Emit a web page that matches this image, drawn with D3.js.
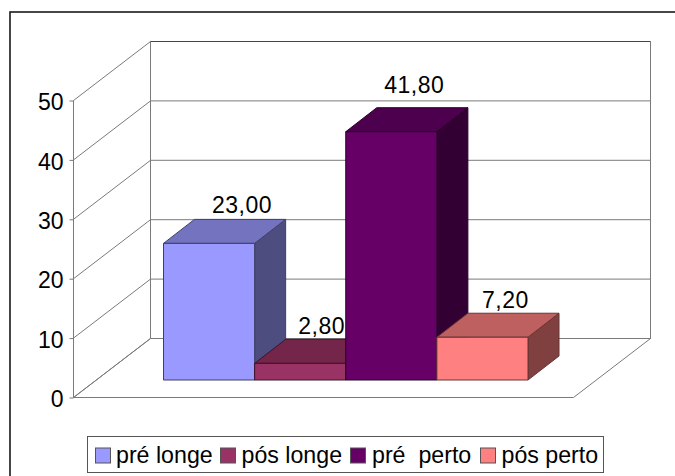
<!DOCTYPE html>
<html>
<head>
<meta charset="utf-8">
<script src="https://cdn.jsdelivr.net/npm/d3@7"></script>
<style>
  html, body { margin: 0; padding: 0; background: #fff; }
  svg { display: block; }
  text { font-family: "Liberation Sans", Arial, sans-serif; fill: #000; white-space: pre; }
</style>
</head>
<body>
<div id="chart"></div>
<script>
// Chart data
const categories = ["pré longe", "pós longe", "pré  perto", "pós perto"];
const values = [23.0, 2.8, 41.8, 7.2];
const valueLabels = ["23,00", "2,80", "41,80", "7,20"];
const faceColors = ["#9999ff", "#993366", "#660066", "#ff8080"];
const topColors = ["#7373bf", "#732649", "#4d004d", "#bf6060"];
const sideColors = ["#4d4d80", "#4d1933", "#330033", "#804040"];
const axisTicks = [0, 10, 20, 30, 40, 50];

// Oblique projection of the chart box
const W = 675, H = 476;
const frontX0 = 73.5, frontX1 = 573.5;
const frontY0 = 397.5, frontY50 = 100.5;
const wallDx = 77, wallDy = -59;
const barDx = 31, barDy = -24;
const barLift = 17.5;   // gap between box floor front edge and bar bases
const labelShift = [[33, -6], [21.5, -5.5], [23, -15], [23, -5]];
const legendMarkX = [95, 220, 350, 480];
const legendTextX = [116, 241.5, 372, 501.5];

const svg = d3.select("#chart").append("svg").attr("width", W).attr("height", H);

// Outer chart frame, running past the right and bottom page edges
svg.append("rect")
  .attr("x", 10).attr("y", 12).attr("width", W).attr("height", H)
  .attr("fill", "#fff").attr("stroke", "#1a1a1a").attr("stroke-width", 1.6);

const y = d3.scaleLinear().domain([0, 50]).range([frontY0, frontY50]);
const x = d3.scaleBand().domain(categories).range([163.5, 528]).paddingInner(0).paddingOuter(0);
const gridColor = "#7a7a7a";
const poly = pts => pts.map(p => p.join(",")).join(" ");

// Walls and floor
const walls = svg.append("g").attr("fill", "none").attr("stroke", gridColor).attr("stroke-width", 1);
walls.append("polygon").attr("points", poly([
  [frontX0, frontY0], [frontX1, frontY0],
  [frontX1 + wallDx, frontY0 + wallDy], [frontX0 + wallDx, frontY0 + wallDy]
]));
walls.append("line")
  .attr("x1", frontX0).attr("x2", frontX0).attr("y1", y(0)).attr("y2", y(50));
walls.append("line")
  .attr("x1", frontX0 + wallDx).attr("x2", frontX0 + wallDx)
  .attr("y1", y(0) + wallDy).attr("y2", y(50) + wallDy);
walls.append("line")
  .attr("x1", frontX1 + wallDx).attr("x2", frontX1 + wallDx)
  .attr("y1", y(0) + wallDy).attr("y2", y(50) + wallDy);

// Gridlines across the left and back walls
walls.selectAll("line.depth").data(axisTicks).join("line").attr("class", "depth")
  .attr("x1", frontX0).attr("y1", d => y(d))
  .attr("x2", frontX0 + wallDx).attr("y2", d => y(d) + wallDy);
walls.selectAll("line.back").data(axisTicks).join("line").attr("class", "back")
  .attr("x1", frontX0 + wallDx).attr("y1", d => y(d) + wallDy)
  .attr("x2", frontX1 + wallDx).attr("y2", d => y(d) + wallDy)
  .attr("stroke", d => d === 50 ? "#444" : gridColor);

// Value axis
const axis = svg.append("g")
  .attr("transform", `translate(${frontX0},0)`)
  .call(d3.axisLeft(y).tickValues(axisTicks).tickSize(4).tickPadding(6).tickFormat(d3.format("d")));
axis.select(".domain").remove();
axis.selectAll("line").attr("stroke", gridColor);
axis.selectAll("text").attr("font-size", 23).attr("dy", "0.4em")
  .style("font-family", '"Liberation Sans", Arial, sans-serif').attr("fill", "#000");

// Bars: front, top and side faces
const baseOf = () => y(0) - barLift;
const heightScale = v => y(0) - y(v);
const bars = svg.append("g").selectAll("g").data(categories).join("g")
  .attr("stroke-width", 1).attr("stroke-linejoin", "round");

bars.each(function (c, i) {
  const g = d3.select(this);
  const x0 = x(c), x1 = x0 + x.bandwidth();
  const yb = baseOf(), yt = yb - heightScale(values[i]);
  const edge = d3.color(sideColors[i]).darker(0.6);
  g.append("polygon").attr("fill", sideColors[i]).attr("stroke", edge)
    .attr("points", poly([[x1, yb], [x1 + barDx, yb + barDy], [x1 + barDx, yt + barDy], [x1, yt]]));
  g.append("polygon").attr("fill", topColors[i]).attr("stroke", edge)
    .attr("points", poly([[x0, yt], [x1, yt], [x1 + barDx, yt + barDy], [x0 + barDx, yt + barDy]]));
  g.append("rect").attr("fill", faceColors[i]).attr("stroke", edge)
    .attr("x", x0).attr("y", yt).attr("width", x.bandwidth()).attr("height", yb - yt);
});

// Value labels above the bars
svg.append("g").selectAll("text").data(valueLabels).join("text")
  .attr("text-anchor", "middle").attr("font-size", 23).attr("letter-spacing", 0.5)
  .attr("x", (d, i) => x(categories[i]) + x.bandwidth() / 2 + labelShift[i][0])
  .attr("y", (d, i) => baseOf() - heightScale(values[i]) + barDy + labelShift[i][1])
  .text(d => d);

// Legend
const legend = svg.append("g");
legend.append("rect")
  .attr("x", 87.5).attr("y", 436.5).attr("width", 516).attr("height", 36)
  .attr("fill", "#fff").attr("stroke", "#555").attr("stroke-width", 1);
legend.selectAll("rect.mark").data(categories).join("rect").attr("class", "mark")
  .attr("x", (d, i) => legendMarkX[i] + 0.5).attr("y", 448)
  .attr("width", 15).attr("height", 15)
  .attr("fill", (d, i) => faceColors[i]).attr("stroke", "#555");
legend.selectAll("text").data(categories).join("text")
  .attr("x", (d, i) => legendTextX[i]).attr("y", 463)
  .attr("font-size", 23.2).text(d => d);
</script>
</body>
</html>
